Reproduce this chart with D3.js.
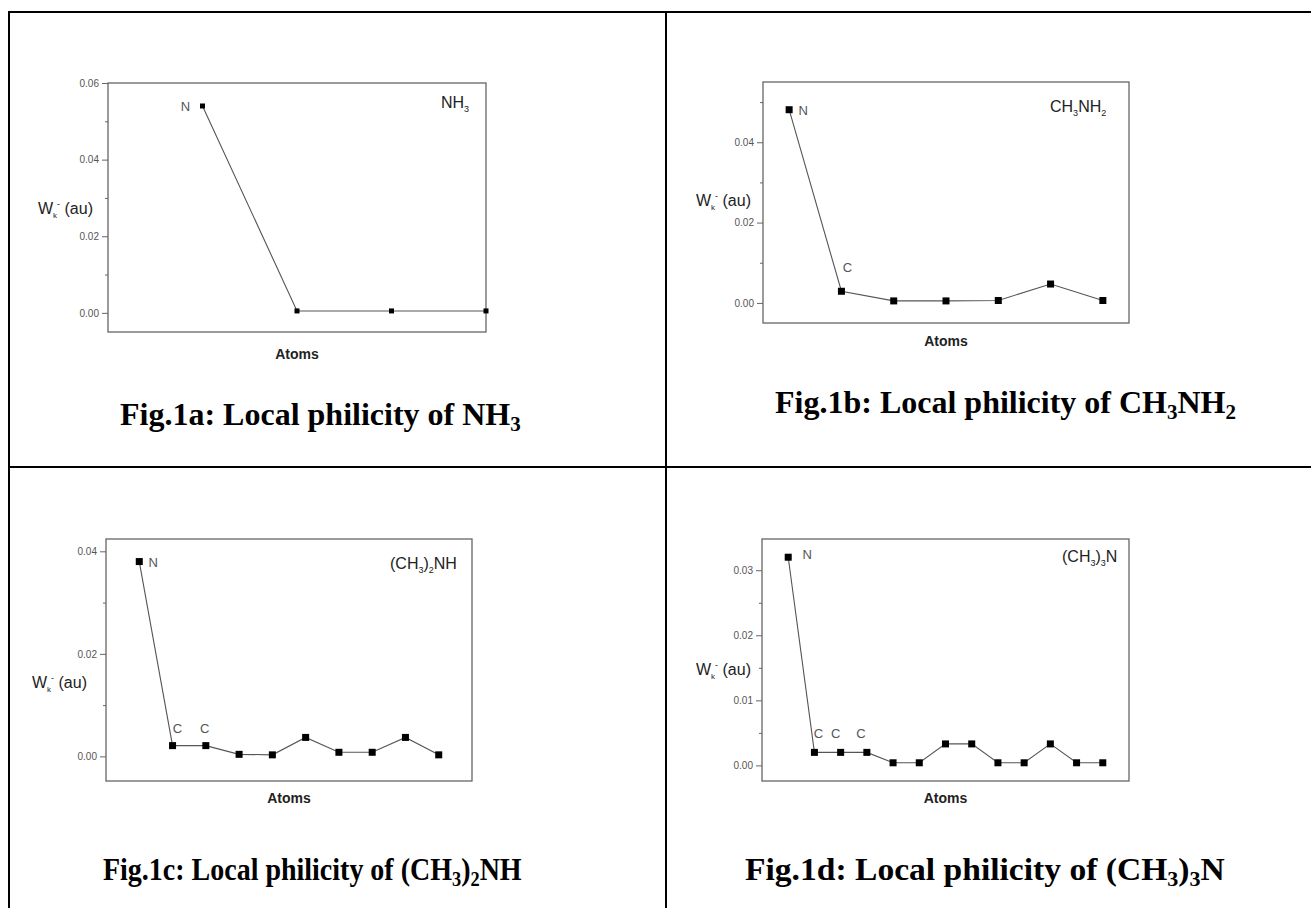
<!DOCTYPE html>
<html>
<head>
<meta charset="utf-8">
<script src="https://cdn.jsdelivr.net/npm/d3@7"></script>
<style>
  body { margin: 0; background: #fff; }
  svg { display: block; }
</style>
</head>
<body>
<div id="chart"></div>
<script>
// local philicity values
var atomsA = [1, 2, 3, 4];
var valsA = [0.054, 0.0005, 0.0005, 0.0005];
var namesA = ['N', '', '', ''];

var atomsB = [1, 2, 3, 4, 5, 6, 7];
var valsB = [0.0481, 0.0029, 0.0005, 0.0005, 0.0006, 0.0047, 0.0006];
var namesB = ['N', 'C', '', '', '', '', ''];

var atomsC = [1, 2, 3, 4, 5, 6, 7, 8, 9, 10];
var valsC = [0.038, 0.0021, 0.0021, 0.0004, 0.0003, 0.0037, 0.0008, 0.0008, 0.0037, 0.0003];
var namesC = ['N', 'C', 'C', '', '', '', '', '', '', ''];

var atomsD = [1, 2, 3, 4, 5, 6, 7, 8, 9, 10, 11, 12, 13];
var valsD = [0.032, 0.002, 0.002, 0.002, 0.0004, 0.0004, 0.0033, 0.0033, 0.0004, 0.0004, 0.0033, 0.0004, 0.0004];
var namesD = ['N', 'C', 'C', 'C', '', '', '', '', '', '', '', '', ''];

var ticksA = [0, 0.02, 0.04, 0.06], minorA = [0.01, 0.03, 0.05];
var ticksB = [0, 0.02, 0.04], minorB = [0.01, 0.03, 0.05];
var ticksC = [0, 0.02, 0.04], minorC = [0.01, 0.03];
var ticksD = [0, 0.01, 0.02, 0.03], minorD = [0.005, 0.015, 0.025];

var W = 1311, H = 908;
var sans = '"Liberation Sans", Arial, sans-serif';
var serif = '"Liberation Serif", "Times New Roman", serif';

var svg = d3.select('#chart').append('svg')
  .attr('width', W)
  .attr('height', H);

// table grid around the figures
var grid = svg.append('g').attr('stroke', '#000').attr('stroke-width', 2);
grid.append('line').attr('x1', 8).attr('x2', W).attr('y1', 12).attr('y2', 12);
grid.append('line').attr('x1', 8).attr('x2', W).attr('y1', 467).attr('y2', 467);
grid.append('line').attr('x1', 9).attr('x2', 9).attr('y1', 11).attr('y2', H);
grid.append('line').attr('x1', 666).attr('x2', 666).attr('y1', 11).attr('y2', H);

var panels = [
  { atoms: atomsA, vals: valsA, names: namesA, ticks: ticksA, minor: minorA,
    left: 108, top: 83, right: 486, bottom: 332, x: [0, 4], y: [-0.005, 0.06],
    mark: 5, labOff: [[-17, 5]],
    mol: ['NH', '3', ''], molX: 441, molY: 108,
    ylabX: 93, ylabY: 214, atomsY: 359,
    title: ['Fig.1a: Local philicity of NH', '3', ''], titleX: 120, titleY: 425, titleW: 0 },
  { atoms: atomsB, vals: valsB, names: namesB, ticks: ticksB, minor: minorB,
    left: 763, top: 82, right: 1129, bottom: 323, x: [0.5, 7.5], y: [-0.005, 0.055],
    mark: 7, labOff: [[14, 5], [6, -19]],
    mol: ['CH', '3', 'NH', '2'], molX: 1050, molY: 112,
    ylabX: 751, ylabY: 206, atomsY: 346,
    title: ['Fig.1b: Local philicity of CH', '3', 'NH', '2'], titleX: 775, titleY: 413, titleW: 0 },
  { atoms: atomsC, vals: valsC, names: namesC, ticks: ticksC, minor: minorC,
    left: 106, top: 539, right: 472, bottom: 781, x: [0, 11], y: [-0.0048, 0.0424],
    mark: 7, labOff: [[14, 5], [5, -13], [-1, -13]],
    mol: ['(CH', '3', ')', '2', 'NH'], molX: 390, molY: 569,
    ylabX: 87, ylabY: 688, atomsY: 803,
    title: ['Fig.1c: Local philicity of (CH', '3', ')', '2', 'NH'], titleX: 103, titleY: 880, titleW: 419 },
  { atoms: atomsD, vals: valsD, names: namesD, ticks: ticksD, minor: minorD,
    left: 762, top: 539, right: 1129, bottom: 781, x: [0, 14], y: [-0.0024, 0.0348],
    mark: 7, labOff: [[19, 2], [4, -14], [-5, -14], [-6, -14]],
    mol: ['(CH', '3', ')', '3', 'N'], molX: 1062, molY: 562,
    ylabX: 751, ylabY: 675, atomsY: 803,
    title: ['Fig.1d: Local philicity of (CH', '3', ')', '3', 'N'], titleX: 745, titleY: 880, titleW: 480 }
];

// writes alternating normal / subscript pieces into a text element
function subText(txt, parts, shift, scale) {
  parts.forEach(function(p, i) {
    if (p === '') return;
    var sub = i % 2 === 1;
    txt.append('tspan')
      .attr('dy', sub ? shift : (i > 0 ? -shift : 0))
      .attr('font-size', sub ? scale : null)
      .text(p);
  });
}

function drawPanel(p) {
  var x = d3.scaleLinear().domain(p.x).range([p.left, p.right]);
  var y = d3.scaleLinear().domain(p.y).range([p.bottom, p.top]);
  var g = svg.append('g');

  // frame
  g.append('rect')
    .attr('x', p.left).attr('y', p.top)
    .attr('width', p.right - p.left).attr('height', p.bottom - p.top)
    .attr('fill', 'none').attr('stroke', '#666').attr('stroke-width', 1.3);

  // major and minor ticks
  var axis = g.append('g')
    .attr('transform', 'translate(' + p.left + ',0)')
    .call(d3.axisLeft(y).tickValues(p.ticks).tickSize(6).tickPadding(3)
      .tickSizeOuter(0).tickFormat(d3.format('.2f')));
  axis.select('.domain').remove();
  axis.selectAll('line').attr('stroke', '#666');
  axis.selectAll('text').attr('fill', '#555').attr('font-family', sans).attr('font-size', 10);

  var minor = g.append('g')
    .attr('transform', 'translate(' + p.left + ',0)')
    .call(d3.axisLeft(y).tickValues(p.minor).tickSize(3).tickSizeOuter(0).tickFormat(''));
  minor.select('.domain').remove();
  minor.selectAll('line').attr('stroke', '#666');

  // the series line and square markers
  var pts = p.atoms.map(function(a, i) { return [a, p.vals[i]]; });
  var line = d3.line().x(function(d) { return x(d[0]); }).y(function(d) { return y(d[1]); });
  g.append('path')
    .attr('d', line(pts))
    .attr('fill', 'none').attr('stroke', '#555').attr('stroke-width', 1.1);

  g.selectAll('.pt').data(pts).enter().append('rect')
    .attr('class', 'pt')
    .attr('x', function(d) { return x(d[0]) - p.mark / 2; })
    .attr('y', function(d) { return y(d[1]) - p.mark / 2; })
    .attr('width', p.mark).attr('height', p.mark)
    .attr('fill', '#000');

  // atom names next to points
  p.names.forEach(function(n, i) {
    if (!n) return;
    g.append('text')
      .attr('x', x(p.atoms[i]) + p.labOff[i][0])
      .attr('y', y(p.vals[i]) + p.labOff[i][1])
      .attr('text-anchor', 'middle')
      .attr('font-family', sans).attr('font-size', 13)
      .attr('fill', '#555')
      .text(n);
  });

  // molecule name top right
  var mol = g.append('text')
    .attr('x', p.molX).attr('y', p.molY)
    .attr('font-family', sans).attr('font-size', 16)
    .attr('fill', '#222');
  subText(mol, p.mol, 4, 9);

  // y label  W_k^- (au)
  var yl = g.append('text')
    .attr('x', p.ylabX).attr('y', p.ylabY)
    .attr('text-anchor', 'end')
    .attr('font-family', sans).attr('font-size', 16)
    .attr('fill', '#222');
  yl.append('tspan').text('W');
  yl.append('tspan').attr('dy', 4).attr('font-size', 8).text('k');
  yl.append('tspan').attr('dy', -11).attr('font-size', 9).text('-');
  yl.append('tspan').attr('dy', 7).text(' (au)');

  g.append('text')
    .attr('x', (p.left + p.right) / 2).attr('y', p.atomsY)
    .attr('text-anchor', 'middle')
    .attr('font-family', sans).attr('font-size', 14).attr('font-weight', 'bold')
    .attr('fill', '#222')
    .text('Atoms');

  // caption, squeezed or stretched to the width it has in the reference
  var t = svg.append('text')
    .attr('x', 0).attr('y', 0)
    .attr('font-family', serif).attr('font-size', 32).attr('font-weight', 'bold')
    .attr('fill', '#000');
  subText(t, p.title, 6, 21);
  var sx = 1;
  if (p.titleW) sx = p.titleW / t.node().getBBox().width;
  t.attr('transform', 'translate(' + p.titleX + ',' + p.titleY + ') scale(' + sx + ',1)');
}

panels.forEach(drawPanel);
</script>
</body>
</html>
